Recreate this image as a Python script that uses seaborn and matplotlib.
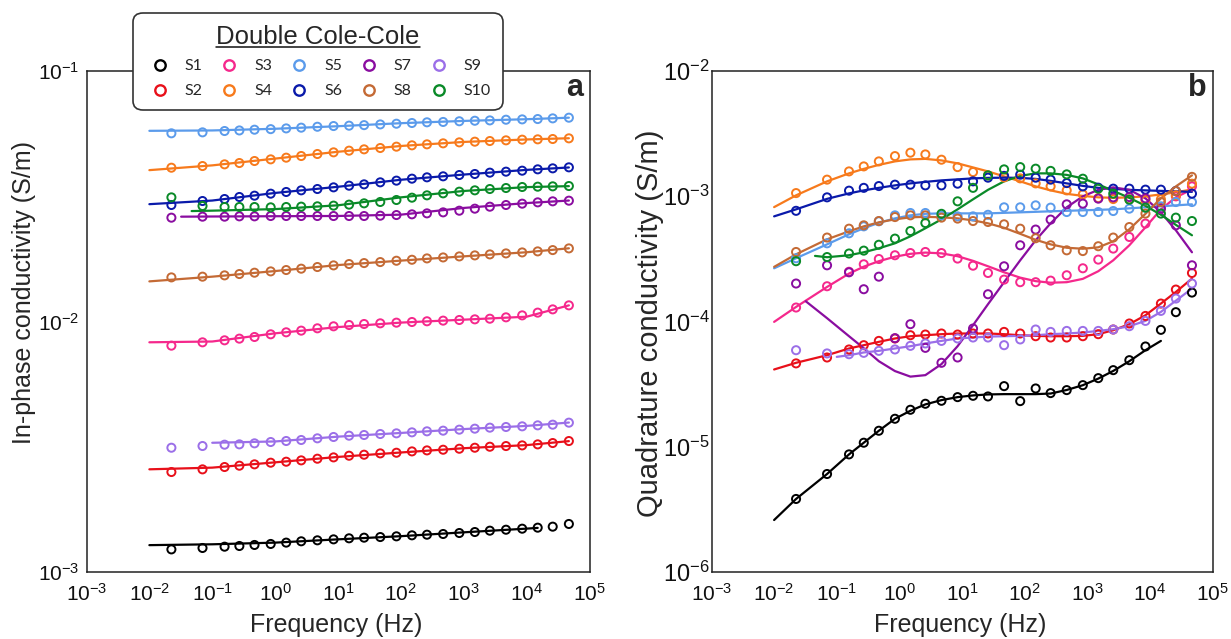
import numpy as np
import pandas as pd
import matplotlib
matplotlib.use("Agg")
import matplotlib.pyplot as plt
from matplotlib.lines import Line2D
from matplotlib.ticker import LogLocator, NullLocator
import seaborn as sns

# ---------------- data ----------------
SAMPLES = ["S1", "S2", "S3", "S4", "S5", "S6", "S7", "S8", "S9", "S10"]
COLORS = ["#000000", "#E8101A", "#F5288C", "#F77A1C", "#5B9BEB",
          "#0A1AAA", "#8A0DA0", "#C46A35", "#9B6FE8", "#0A8A28"]

DATA_F = [0.0224, 0.07, 0.157, 0.27, 0.47, 0.85, 1.5, 2.6, 4.7, 8.5, 15, 26, 47,
          85, 150, 260, 470, 850, 1500, 2600, 4700, 8500, 15000, 26000, 47000]

# (a) in-phase conductivity, measured points (S/m)
A_S1 = [0.001231, 0.001247, 0.001262, 0.001270, 0.001282, 0.001294, 0.001310, 0.001326, 0.001338, 0.001350,
        0.001363, 0.001371, 0.001379, 0.001388, 0.001401, 0.001409, 0.001418, 0.001431, 0.001444, 0.001462,
        0.001475, 0.001489, 0.001503, 0.001517, 0.001555]
A_S2 = [0.002507, 0.002569, 0.002625, 0.002657, 0.002690, 0.002731, 0.002756, 0.002790, 0.002833, 0.002868,
        0.002912, 0.002939, 0.002975, 0.002993, 0.003030, 0.003058, 0.003077, 0.003105, 0.003134, 0.003163,
        0.003183, 0.003202, 0.003232, 0.003272, 0.003333]
A_S3 = [0.008009, 0.008258, 0.008412, 0.008542, 0.008673, 0.008890, 0.009055, 0.009194, 0.009393, 0.009568,
        0.009683, 0.009772, 0.009833, 0.009894, 0.009954, 0.01002, 0.01008, 0.01014, 0.01020, 0.01026,
        0.01039, 0.01058, 0.01085, 0.01118, 0.01160]
A_S4 = [0.04111, 0.04175, 0.04240, 0.04292, 0.04372, 0.04439, 0.04508, 0.04578, 0.04663, 0.04735,
        0.04808, 0.04867, 0.04927, 0.04988, 0.0505, 0.05096, 0.05143, 0.0519, 0.05222, 0.05254,
        0.05287, 0.0532, 0.05336, 0.05352, 0.05385]
A_S5 = [0.0564, 0.0569, 0.0576, 0.0579, 0.0583, 0.0586, 0.0590, 0.0594, 0.0599, 0.0603,
        0.0605, 0.0608, 0.0612, 0.0616, 0.0620, 0.0624, 0.0626, 0.0630, 0.0633, 0.0635,
        0.0639, 0.0641, 0.0643, 0.0647, 0.0651]
A_S6 = [0.02918, 0.03027, 0.03083, 0.03141, 0.03179, 0.03238, 0.03289, 0.03339, 0.03380, 0.03432,
        0.03485, 0.03528, 0.03594, 0.03650, 0.03717, 0.03763, 0.03798, 0.03844, 0.03880, 0.03928,
        0.03964, 0.04000, 0.04050, 0.04087, 0.04125]
A_S7 = [0.02597, 0.02621, 0.02621, 0.02629, 0.02629, 0.02637, 0.02637, 0.02637, 0.02637, 0.02637,
        0.02637, 0.02637, 0.02645, 0.02661, 0.02678, 0.02702, 0.02727, 0.02769, 0.02821, 0.02873,
        0.02918, 0.02954, 0.02990, 0.03018, 0.03036]
A_S8 = [0.01500, 0.01510, 0.01528, 0.01547, 0.01566, 0.01585, 0.01605, 0.01625, 0.01650, 0.01675,
        0.01696, 0.01711, 0.01727, 0.01748, 0.01764, 0.01786, 0.01802, 0.01819, 0.01836, 0.01853,
        0.01870, 0.01887, 0.01905, 0.01928, 0.01958]
A_S9 = [0.003134, 0.003184, 0.003223, 0.003233, 0.003263, 0.003303, 0.003334, 0.003365, 0.003417, 0.003459,
        0.003501, 0.003523, 0.003555, 0.003577, 0.003610, 0.003644, 0.003666, 0.003700, 0.003734, 0.003769,
        0.003792, 0.003815, 0.003850, 0.003874, 0.003946]
A_S10 = [0.03130, 0.02892, 0.02865, 0.02865, 0.02865, 0.02856, 0.02865, 0.02874, 0.02883, 0.02901,
         0.02928, 0.02963, 0.03000, 0.03055, 0.03121, 0.03189, 0.03248, 0.03298, 0.03339, 0.0338,
         0.03411, 0.03443, 0.03453, 0.03464, 0.03474]

# (a) double Cole-Cole fits
A_FIT_F = [0.01, 0.1, 1, 10, 100, 1000, 10000, 47000]
A_FIT_F_S1 = [0.01, 0.1, 1, 10, 100, 1000, 10000, 15000]
A_FIT_F_S7 = [0.032, 0.1, 1, 10, 100, 1000, 10000, 47000]
A_FIT_F_S9 = [0.1, 1, 10, 100, 1000, 10000, 47000]
A_FIT_F_S10 = [0.047, 0.1, 1, 10, 100, 1000, 10000, 47000]
A_L_S1 = [0.00128, 0.00129, 0.00131, 0.00135, 0.00139, 0.00144, 0.00149, 0.00150]
A_L_S2 = [0.00257, 0.00261, 0.00274, 0.00288, 0.00300, 0.00312, 0.00321, 0.00333]
A_L_S3 = [0.00826, 0.00832, 0.00897, 0.00950, 0.00990, 0.01017, 0.01045, 0.0116]
A_L_S4 = [0.0402, 0.0420, 0.0447, 0.0476, 0.0502, 0.0521, 0.0533, 0.0539]
A_L_S5 = [0.0577, 0.0579, 0.0588, 0.0602, 0.0619, 0.0632, 0.0642, 0.0651]
A_L_S6 = [0.0294, 0.0304, 0.0326, 0.0345, 0.0368, 0.0386, 0.0403, 0.0412]
A_L_S7 = [0.02621, 0.02625, 0.02632, 0.02638, 0.0267, 0.0284, 0.0297, 0.0304]
A_L_S8 = [0.01446, 0.0151, 0.0159, 0.0168, 0.0175, 0.0182, 0.0189, 0.0196]
A_L_S9 = [0.00328, 0.00332, 0.00347, 0.00359, 0.00372, 0.00383, 0.00395]
A_L_S10 = [0.0276, 0.0277, 0.0281, 0.0291, 0.0313, 0.0332, 0.0344, 0.0347]

# (b) quadrature conductivity, measured points (S/m)
B_S1 = [3.83e-6, 6.06e-6, 8.69e-6, 1.077e-5, 1.342e-5, 1.673e-5, 1.974e-5, 2.204e-5, 2.328e-5, 2.490e-5,
        2.552e-5, 2.521e-5, 3.048e-5, 2.314e-5, 2.920e-5, 2.681e-5, 2.833e-5, 3.104e-5, 3.530e-5, 4.089e-5,
        4.912e-5, 6.317e-5, 8.578e-5, 1.187e-4, 1.702e-4]
B_S2 = [4.63e-5, 5.16e-5, 5.98e-5, 6.47e-5, 7.00e-5, 7.32e-5, 7.77e-5, 7.87e-5, 8.02e-5, 7.87e-5,
        8.02e-5, 8.02e-5, 8.26e-5, 8.02e-5, 7.63e-5, 7.45e-5, 7.45e-5, 7.63e-5, 7.92e-5, 8.63e-5,
        9.64e-5, 1.108e-4, 1.391e-4, 1.799e-4, 2.44e-4]
B_S3 = [1.293e-4, 1.912e-4, 2.495e-4, 2.863e-4, 3.155e-4, 3.38e-4, 3.52e-4, 3.59e-4, 3.52e-4, 3.18e-4,
        2.79e-4, 2.44e-4, 2.16e-4, 2.06e-4, 2.06e-4, 2.12e-4, 2.34e-4, 2.66e-4, 3.12e-4, 3.82e-4,
        4.73e-4, 6.05e-4, 7.96e-4, 9.98e-4, 1.199e-3]
B_S4 = [1.060e-3, 1.357e-3, 1.579e-3, 1.731e-3, 1.898e-3, 2.092e-3, 2.227e-3, 2.158e-3, 1.958e-3, 1.709e-3,
        1.560e-3, 1.468e-3, 1.415e-3, 1.389e-3, 1.267e-3, 1.199e-3, 1.114e-3, 1.035e-3, 9.67e-4, 9.50e-4,
        9.45e-4, 9.28e-4, 9.45e-4, 1.017e-3, 1.260e-3]
B_S5 = [3.20e-4, 4.21e-4, 5.06e-4, 5.75e-4, 6.31e-4, 7.04e-4, 7.35e-4, 7.35e-4, 7.04e-4, 6.91e-4,
        6.91e-4, 7.11e-4, 8.16e-4, 8.16e-4, 8.46e-4, 8.11e-4, 7.48e-4, 7.48e-4, 7.48e-4, 7.62e-4,
        7.96e-4, 8.11e-4, 8.31e-4, 8.99e-4, 8.99e-4]
B_S6 = [7.65e-4, 9.80e-4, 1.108e-3, 1.167e-3, 1.206e-3, 1.237e-3, 1.237e-3, 1.221e-3, 1.221e-3, 1.260e-3,
        1.315e-3, 1.407e-3, 1.454e-3, 1.487e-3, 1.407e-3, 1.357e-3, 1.274e-3, 1.199e-3, 1.171e-3, 1.150e-3,
        1.150e-3, 1.129e-3, 1.129e-3, 1.100e-3, 1.049e-3]
B_S7 = [2.01e-4, 2.81e-4, 2.47e-4, 1.81e-4, 2.28e-4, 7.36e-5, 9.52e-5, 6.16e-5, 4.68e-5, 5.16e-5,
        8.79e-5, 1.651e-4, 2.76e-4, 4.06e-4, 5.42e-4, 6.51e-4, 8.62e-4, 8.73e-4, 9.57e-4, 9.80e-4,
        9.85e-4, 9.62e-4, 7.96e-4, 5.86e-4, 2.81e-4]
B_S8 = [3.59e-4, 4.68e-4, 5.51e-4, 5.86e-4, 6.34e-4, 6.82e-4, 7.04e-4, 7.04e-4, 6.75e-4, 6.63e-4,
        6.34e-4, 6.23e-4, 5.97e-4, 5.51e-4, 4.62e-4, 4.06e-4, 3.70e-4, 3.65e-4, 3.99e-4, 4.68e-4,
        5.68e-4, 7.27e-4, 8.99e-4, 1.100e-3, 1.428e-3]
B_S9 = [5.90e-5, 5.56e-5, 5.48e-5, 5.62e-5, 5.83e-5, 5.98e-5, 6.39e-5, 6.68e-5, 7.00e-5, 7.32e-5,
        7.45e-5, 7.45e-5, 6.47e-5, 7.19e-5, 8.63e-5, 8.26e-5, 8.41e-5, 8.41e-5, 8.41e-5, 8.63e-5,
        9.17e-5, 1.011e-4, 1.215e-4, 1.525e-4, 2.01e-4]
B_S10 = [3.03e-4, 3.27e-4, 3.49e-4, 3.68e-4, 4.10e-4, 4.59e-4, 5.28e-4, 6.11e-4, 7.24e-4, 9.11e-4,
         1.167e-3, 1.468e-3, 1.639e-3, 1.709e-3, 1.660e-3, 1.594e-3, 1.495e-3, 1.381e-3, 1.150e-3, 1.049e-3,
         9.39e-4, 8.11e-4, 7.27e-4, 6.75e-4, 6.34e-4]

# (b) double Cole-Cole fits
B_FIT_F = [0.01] + DATA_F
B_FIT_F_S1 = [0.01] + DATA_F[:23]
B_FIT_F_S7 = [0.032] + DATA_F[1:]
B_FIT_F_S9 = [0.1] + DATA_F[2:]
B_FIT_F_S10 = [0.045] + DATA_F[1:]
B_L_S1 = [2.60e-6, 3.83e-6, 6.06e-6, 8.69e-6, 1.077e-5, 1.342e-5, 1.673e-5, 1.938e-5, 2.179e-5, 2.357e-5,
          2.490e-5, 2.569e-5, 2.616e-5, 2.631e-5, 2.631e-5, 2.631e-5, 2.66e-5, 2.84e-5, 3.10e-5, 3.50e-5,
          4.03e-5, 4.82e-5, 5.90e-5, 7.00e-5]
B_L_S2 = [4.14e-5, 4.68e-5, 5.38e-5, 6.09e-5, 6.47e-5, 6.88e-5, 7.32e-5, 7.63e-5, 7.77e-5, 7.92e-5,
          8.02e-5, 8.02e-5, 8.02e-5, 7.92e-5, 7.77e-5, 7.68e-5, 7.63e-5, 7.63e-5, 7.68e-5, 7.92e-5,
          8.52e-5, 9.52e-5, 1.122e-4, 1.391e-4, 1.722e-4, 2.20e-4]
B_L_S3 = [9.93e-5, 1.307e-4, 1.888e-4, 2.414e-4, 2.74e-4, 3.03e-4, 3.29e-4, 3.47e-4, 3.55e-4, 3.50e-4,
          3.32e-4, 3.05e-4, 2.76e-4, 2.47e-4, 2.24e-4, 2.10e-4, 2.04e-4, 2.06e-4, 2.19e-4, 2.52e-4,
          3.08e-4, 4.06e-4, 5.65e-4, 7.86e-4, 9.80e-4, 1.135e-3]
B_L_S4 = [8.19e-4, 1.017e-3, 1.315e-3, 1.523e-3, 1.654e-3, 1.780e-3, 1.898e-3, 1.969e-3, 1.987e-3, 1.933e-3,
          1.830e-3, 1.699e-3, 1.579e-3, 1.441e-3, 1.315e-3, 1.199e-3, 1.114e-3, 1.045e-3, 1.007e-3, 9.80e-4,
          9.71e-4, 9.80e-4, 9.98e-4, 1.035e-3, 1.074e-3, 1.135e-3]
B_L_S5 = [2.66e-4, 3.20e-4, 4.13e-4, 4.97e-4, 5.55e-4, 6.14e-4, 6.66e-4, 7.04e-4, 7.24e-4, 7.30e-4,
          7.30e-4, 7.30e-4, 7.30e-4, 7.37e-4, 7.44e-4, 7.51e-4, 7.58e-4, 7.65e-4, 7.72e-4, 7.79e-4,
          7.86e-4, 8.01e-4, 8.16e-4, 8.31e-4, 8.46e-4, 8.62e-4]
B_L_S6 = [6.91e-4, 7.86e-4, 9.53e-4, 1.054e-3, 1.114e-3, 1.167e-3, 1.221e-3, 1.267e-3, 1.302e-3, 1.339e-3,
          1.364e-3, 1.389e-3, 1.402e-3, 1.407e-3, 1.402e-3, 1.376e-3, 1.327e-3, 1.267e-3, 1.210e-3, 1.167e-3,
          1.145e-3, 1.125e-3, 1.114e-3, 1.104e-3, 1.094e-3, 1.084e-3]
B_L_S7 = [1.451e-4, 1.063e-4, 7.63e-5, 6.12e-5, 4.82e-5, 4.02e-5, 3.63e-5, 3.73e-5, 4.57e-5, 6.35e-5,
          9.34e-5, 1.374e-4, 2.06e-4, 3.08e-4, 4.45e-4, 6.08e-4, 8.16e-4, 9.98e-4, 1.125e-3, 1.178e-3,
          1.125e-3, 9.62e-4, 7.44e-4, 5.35e-4, 3.57e-4]
B_L_S8 = [2.73e-4, 3.44e-4, 4.53e-4, 5.25e-4, 5.75e-4, 6.19e-4, 6.54e-4, 6.79e-4, 6.85e-4, 6.79e-4,
          6.66e-4, 6.42e-4, 6.08e-4, 5.60e-4, 5.01e-4, 4.49e-4, 4.13e-4, 3.88e-4, 3.81e-4, 3.91e-4,
          4.37e-4, 5.45e-4, 7.24e-4, 9.62e-4, 1.199e-3, 1.468e-3]
B_L_S9 = [5.22e-5, 5.38e-5, 5.66e-5, 5.83e-5, 6.09e-5, 6.35e-5, 6.68e-5, 7.00e-5, 7.32e-5, 7.45e-5,
          7.58e-5, 7.63e-5, 7.68e-5, 7.77e-5, 7.92e-5, 8.02e-5, 8.17e-5, 8.41e-5, 8.68e-5, 9.17e-5,
          1.011e-4, 1.193e-4, 1.466e-4, 1.834e-4]
B_L_S10 = [3.34e-4, 3.26e-4, 3.38e-4, 3.57e-4, 3.84e-4, 4.21e-4, 4.79e-4, 5.55e-4, 6.54e-4, 7.86e-4,
           9.45e-4, 1.125e-3, 1.315e-3, 1.454e-3, 1.523e-3, 1.523e-3, 1.481e-3, 1.389e-3, 1.244e-3, 1.104e-3,
           9.71e-4, 8.39e-4, 7.11e-4, 5.91e-4, 4.88e-4]

Y_LABELS = ["In-phase conductivity (S/m)", "Quadrature conductivity (S/m)"]
X_LABEL = "Frequency (Hz)"
LEGEND_TITLE = "Double Cole-Cole"

# ---------------- build long tables ----------------
A_PTS = [A_S1, A_S2, A_S3, A_S4, A_S5, A_S6, A_S7, A_S8, A_S9, A_S10]
B_PTS = [B_S1, B_S2, B_S3, B_S4, B_S5, B_S6, B_S7, B_S8, B_S9, B_S10]
A_FITS = [(A_FIT_F_S1, A_L_S1), (A_FIT_F, A_L_S2), (A_FIT_F, A_L_S3), (A_FIT_F, A_L_S4),
          (A_FIT_F, A_L_S5), (A_FIT_F, A_L_S6), (A_FIT_F_S7, A_L_S7), (A_FIT_F, A_L_S8),
          (A_FIT_F_S9, A_L_S9), (A_FIT_F_S10, A_L_S10)]
B_FITS = [(B_FIT_F_S1, B_L_S1), (B_FIT_F, B_L_S2), (B_FIT_F, B_L_S3), (B_FIT_F, B_L_S4),
          (B_FIT_F, B_L_S5), (B_FIT_F, B_L_S6), (B_FIT_F_S7, B_L_S7), (B_FIT_F, B_L_S8),
          (B_FIT_F_S9, B_L_S9), (B_FIT_F_S10, B_L_S10)]


def points_df(pts):
    rows = []
    for s, vals in zip(SAMPLES, pts):
        for f, v in zip(DATA_F, vals):
            rows.append((s, f, v))
    return pd.DataFrame(rows, columns=["sample", "freq", "value"])


def fits_df(fits):
    rows = []
    for s, (fs, vals) in zip(SAMPLES, fits):
        for f, v in zip(fs, vals):
            rows.append((s, f, v))
    return pd.DataFrame(rows, columns=["sample", "freq", "value"])


palette = dict(zip(SAMPLES, COLORS))

# ---------------- style ----------------
sns.set_style("white")
plt.rcParams["font.family"] = ["Liberation Sans", "DejaVu Sans"]
plt.rcParams["axes.linewidth"] = 1.1
plt.rcParams["axes.edgecolor"] = "#222222"
plt.rcParams["axes.unicode_minus"] = False

W, H = 1231, 639
fig = plt.figure(figsize=(W / 100, H / 100), dpi=100)
ax_a = fig.add_axes([86.5 / W, 1 - 572 / H, 503 / W, 501 / H])
ax_b = fig.add_axes([711.5 / W, 1 - 572 / H, 501 / W, 501 / H])

panels = [
    (ax_a, A_PTS, A_FITS, (1e-3, 1e-1), "a", Y_LABELS[0], 15, 18, 5, (-0.100, 0.557)),
    (ax_b, B_PTS, B_FITS, (1e-6, 1e-2), "b", Y_LABELS[1], 17, 21, 1.5, (-0.095, 0.497)),
]

for ax, pts, fits, ylim, letter, ylab, ytfs, ylfs, ypad, ylc in panels:
    ax.set_xscale("log")
    ax.set_yscale("log")
    dfl = fits_df(fits)
    sns.lineplot(data=dfl, x="freq", y="value", hue="sample", palette=palette,
                 hue_order=SAMPLES, estimator=None, sort=False, linewidth=1.6,
                 legend=False, ax=ax)
    dfp = points_df(pts)
    sns.scatterplot(data=dfp, x="freq", y="value", hue="sample", palette=palette,
                    hue_order=SAMPLES, s=34, linewidth=1.4, legend=False, ax=ax, zorder=3)
    coll = ax.collections[-1]
    coll.set_edgecolors(coll.get_facecolors())
    coll.set_facecolors("none")

    ax.set_xlim(1e-3, 1e5)
    ax.set_ylim(*ylim)
    ax.xaxis.set_major_locator(LogLocator(base=10, numticks=20))
    ax.yaxis.set_major_locator(LogLocator(base=10, numticks=20))
    ax.xaxis.set_minor_locator(NullLocator())
    ax.yaxis.set_minor_locator(NullLocator())
    ax.tick_params(axis="x", direction="in", length=6, width=1.1, labelsize=15, pad=8,
                   colors="#111111")
    ax.tick_params(axis="y", direction="in", length=6, width=1.1, labelsize=ytfs, pad=ypad,
                   colors="#111111")
    ax.set_xlabel(X_LABEL, fontsize=18)
    ax.set_ylabel(ylab, fontsize=ylfs)
    ax.xaxis.set_label_coords(0.497, -0.082)
    ax.yaxis.set_label_coords(*ylc)
    for sp in ax.spines.values():
        sp.set_visible(True)
        sp.set_linewidth(1.1)
    ax.text(0.988, 0.95, letter, transform=ax.transAxes, ha="right", va="baseline",
            fontsize=22, fontweight="bold")

# ---------------- legend ----------------
handles = [Line2D([], [], linestyle="none", marker="o", markersize=7.5,
                  markerfacecolor="none", markeredgecolor=c, markeredgewidth=1.7)
           for c in COLORS]
leg = fig.legend(handles, SAMPLES, ncol=5, loc="upper left",
                 bbox_to_anchor=(133 / W, 1 - 12.7 / H), bbox_transform=fig.transFigure,
                 frameon=True, fancybox=True, framealpha=1, edgecolor="#333333",
                 title=LEGEND_TITLE,
                 title_fontproperties={"family": "Liberation Sans", "size": 18.5},
                 prop={"family": "Lato", "size": 11.5},
                 handlelength=1.84, handletextpad=0.64, columnspacing=0.76,
                 labelspacing=0.66, borderpad=0.75, borderaxespad=0)
leg.get_frame().set_linewidth(1.2)
leg.get_frame().set_boxstyle("round", pad=0, rounding_size=0.6)

fig.canvas.draw()
renderer = fig.canvas.get_renderer()
tb = leg.get_title().get_window_extent(renderer)
uy = (tb.y0 + 1.5) / H
fig.add_artist(Line2D([tb.x0 / W, tb.x1 / W], [uy, uy], transform=fig.transFigure,
                      color="#111111", linewidth=1.1, zorder=10))

fig.savefig("out.png", dpi=100)
